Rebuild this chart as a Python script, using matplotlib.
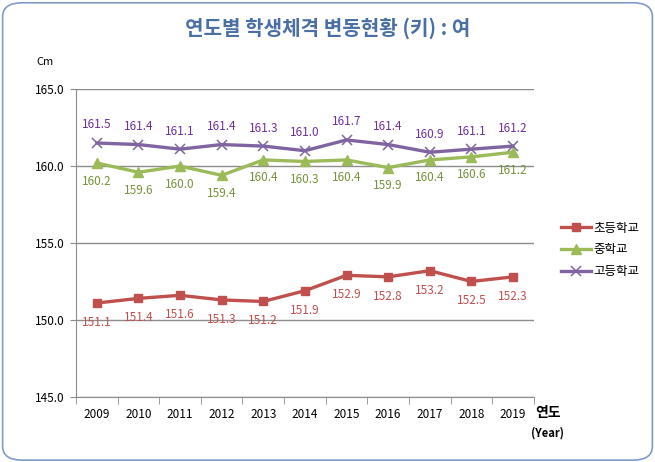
import matplotlib.pyplot as plt
from matplotlib.patches import FancyBboxPatch

plt.rcParams['font.family'] = ['Noto Sans CJK KR', 'DejaVu Sans']

years = ['2009', '2010', '2011', '2012', '2013', '2014', '2015', '2016', '2017', '2018', '2019']
# marker positions
elem = [151.1, 151.4, 151.6, 151.3, 151.2, 151.9, 152.9, 152.8, 153.2, 152.5, 152.8]
middle = [160.2, 159.6, 160.0, 159.4, 160.4, 160.3, 160.4, 159.9, 160.4, 160.6, 160.9]
high = [161.5, 161.4, 161.1, 161.4, 161.3, 161.0, 161.7, 161.4, 160.9, 161.1, 161.3]
# data labels as printed on the chart
elem_lbl = ['151.1', '151.4', '151.6', '151.3', '151.2', '151.9', '152.9', '152.8', '153.2', '152.5', '152.3']
middle_lbl = ['160.2', '159.6', '160.0', '159.4', '160.4', '160.3', '160.4', '159.9', '160.4', '160.6', '161.2']
high_lbl = ['161.5', '161.4', '161.1', '161.4', '161.3', '161.0', '161.7', '161.4', '160.9', '161.1', '161.2']
series_names = ['초등학교', '중학교', '고등학교']

fig = plt.figure(figsize=(6.55, 4.62), dpi=100)
fig.patches.append(FancyBboxPatch((0.004, 0.004), 0.992, 0.99,
                                  boxstyle='round,pad=0,rounding_size=0.03',
                                  transform=fig.transFigure, fc='none',
                                  ec='#7F9BC6', lw=1.2, zorder=0))

ax = fig.add_axes([0.116, 0.141, 0.699, 0.666])
ax.set_facecolor('none')
x = range(len(years))

ax.plot(x, elem, color='#C0504D', lw=2.4, marker='s', ms=6, label=series_names[0], zorder=3)
ax.plot(x, middle, color='#9BBB59', lw=2.4, marker='^', ms=7, label=series_names[1], zorder=3)
ax.plot(x, high, color='#8064A2', lw=2.4, marker='x', ms=6.5, mew=1.1, label=series_names[2], zorder=3)

for i in x:
    ax.annotate(elem_lbl[i], (i, elem[i]), xytext=(0, -14), textcoords='offset points',
                ha='center', va='center', fontsize=8.5, color='#C0504D')
    ax.annotate(middle_lbl[i], (i, middle[i]), xytext=(0, -13), textcoords='offset points',
                ha='center', va='center', fontsize=8.5, color='#76923C')
    ax.annotate(high_lbl[i], (i, high[i]), xytext=(0, 13), textcoords='offset points',
                ha='center', va='center', fontsize=8.5, color='#7030A0')

ax.set_xlim(-0.5, len(years) - 0.5)
ax.set_ylim(145, 165)
ax.set_yticks([145, 150, 155, 160, 165])
ax.set_yticklabels(['%.1f' % v for v in [145, 150, 155, 160, 165]], fontsize=8.5)
ax.yaxis.grid(True, color='#8C8C8C', lw=1)
ax.set_axisbelow(True)
ax.tick_params(axis='y', length=4, color='#8C8C8C', pad=4)

ax.set_xticks(list(x))
ax.set_xticklabels(years, fontsize=8.5)
ax.set_xticks([i - 0.5 for i in range(len(years) + 1)], minor=True)
ax.tick_params(axis='x', which='major', length=0, pad=8)
ax.tick_params(axis='x', which='minor', length=5, color='#8C8C8C')

for s in ['top', 'right']:
    ax.spines[s].set_visible(False)
for s in ['left', 'bottom']:
    ax.spines[s].set_color('#8C8C8C')

fig.text(0.5, 0.94, '연도별 학생체격 변동현황 (키) : 여', ha='center', va='center',
         fontsize=14.5, fontweight='bold', color='#4A6FA5')
fig.text(0.056, 0.865, 'Cm', fontsize=8, va='center')
fig.text(0.817, 0.106, '연도', fontsize=10, fontweight='bold', va='center')
fig.text(0.81, 0.062, '(Year)', fontsize=8, fontweight='bold', va='center')

ax.legend(loc='center left', bbox_to_anchor=(0.856, 0.459), bbox_transform=fig.transFigure,
          frameon=False, fontsize=9, handlelength=2.4, handletextpad=0.2, labelspacing=0.7,
          borderpad=0, borderaxespad=0)

fig.savefig('out.png', dpi=100)
